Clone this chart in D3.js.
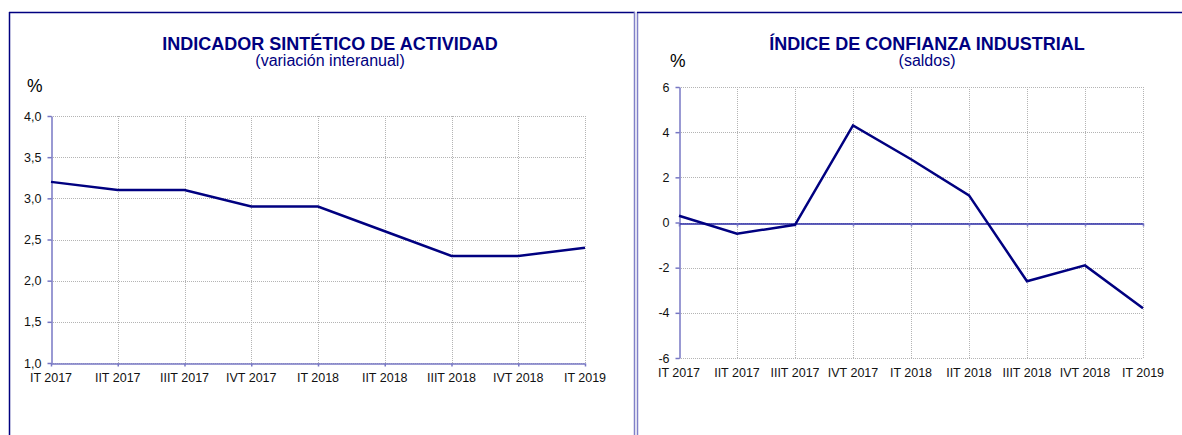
<!DOCTYPE html>
<html><head><meta charset="utf-8">
<script src="https://cdn.jsdelivr.net/npm/d3@7"></script>
<style>
html,body{margin:0;padding:0;background:#fff;}
svg{display:block;font-family:"Liberation Sans",Arial,sans-serif;}
</style></head>
<body><svg id="c" width="1182" height="435"></svg>
<script>
const categories = ["IT 2017","IIT 2017","IIIT 2017","IVT 2017","IT 2018","IIT 2018","IIIT 2018","IVT 2018","IT 2019"];
const actividadValues = [3.2, 3.1, 3.1, 2.9, 2.9, 2.6, 2.3, 2.3, 2.4];
const confianzaValues = [0.3, -0.5, -0.1, 4.3, 2.8, 1.2, -2.6, -1.9, -3.8];
const actividadTicks = [1.0, 1.5, 2.0, 2.5, 3.0, 3.5, 4.0];
const confianzaTicks = [-6, -4, -2, 0, 2, 4, 6];

const svg = d3.select("#c");
const navy = "#000080";
const axisCol = "#7777c4";

// panel borders
svg.append("line").attr("x1",9.5).attr("x2",9.5).attr("y1",12).attr("y2",435).attr("stroke",navy).attr("stroke-width",1.5);
svg.append("line").attr("x1",9).attr("x2",635).attr("y1",12.5).attr("y2",12.5).attr("stroke",navy).attr("stroke-width",1.5);
svg.append("line").attr("x1",634.5).attr("x2",634.5).attr("y1",12).attr("y2",435).attr("stroke","#8080c8").attr("stroke-width",1.5);
svg.append("line").attr("x1",637.5).attr("x2",637.5).attr("y1",12).attr("y2",435).attr("stroke","#8080c8").attr("stroke-width",1.5);
svg.append("line").attr("x1",637).attr("x2",1182).attr("y1",12.5).attr("y2",12.5).attr("stroke",navy).attr("stroke-width",1.5);

function drawChart(o){
  const g = svg.append("g");
  g.append("text").attr("x",o.cx).attr("y",50).attr("text-anchor","middle")
    .attr("font-size",18).attr("font-weight","bold").attr("fill",navy).text(o.title);
  g.append("text").attr("x",o.cx).attr("y",66).attr("text-anchor","middle")
    .attr("font-size",16).attr("fill",navy).text(o.subtitle);
  g.append("text").attr("x",o.pctX).attr("y",o.pctY).attr("font-size",17.5).attr("fill","#000").text("%");

  const x = d3.scalePoint().domain(categories).range([o.x0,o.x1]);
  const y = d3.scaleLinear().domain(o.domain).range([o.y1,o.y0]);

  // grid
  g.append("g").selectAll("line").data(o.ticks).join("line")
    .attr("x1",o.x0).attr("x2",o.x1).attr("y1",d=>Math.round(y(d))+0.5).attr("y2",d=>Math.round(y(d))+0.5)
    .attr("stroke","#b4b4b4").attr("stroke-width",1).attr("stroke-dasharray","1,1");
  g.append("g").selectAll("line").data(categories.slice(1)).join("line")
    .attr("x1",d=>Math.round(x(d))+0.5).attr("x2",d=>Math.round(x(d))+0.5).attr("y1",o.y0).attr("y2",o.y1)
    .attr("stroke","#b4b4b4").attr("stroke-width",1).attr("stroke-dasharray","1,1");

  // y axis
  const ya = d3.axisLeft(y).tickValues(o.ticks).tickSize(4).tickSizeOuter(0).tickFormat(o.fmt);
  const yg = g.append("g").attr("transform",`translate(${Math.round(o.x0)+0.5},0)`).call(ya);
  yg.select(".domain").attr("stroke",axisCol).attr("stroke-width",1.5);
  yg.selectAll(".tick line").attr("stroke",axisCol).attr("stroke-width",1.5);
  yg.selectAll(".tick text").attr("font-size",12.5).attr("fill","#111").attr("font-family","Liberation Sans, Arial, sans-serif").attr("x",-10);

  // x axis (at baseline value)
  const xa = d3.axisBottom(x).tickSize(3).tickSizeOuter(0);
  const xg = g.append("g").attr("transform",`translate(0,${Math.round(y(o.baseline))+0.5})`).call(xa);
  xg.select(".domain").attr("stroke",o.baseCol).attr("stroke-width",o.baseW);
  xg.selectAll(".tick line").attr("stroke",axisCol).attr("stroke-width",1.5);
  xg.selectAll(".tick text").remove();
  // x labels at bottom
  g.append("g").selectAll("text").data(categories).join("text")
    .attr("x",d=>x(d)).attr("y",o.labelY).attr("text-anchor","middle")
    .attr("font-size",12.5).attr("fill","#111").text(d=>d);

  // line
  g.append("path").datum(o.values)
    .attr("fill","none").attr("stroke",navy).attr("stroke-width",2.5).attr("stroke-linejoin","miter")
    .attr("d", d3.line().x((d,i)=>x(categories[i])).y(d=>y(d)));
}

drawChart({
  title:"INDICADOR SINTÉTICO DE ACTIVIDAD", subtitle:"(variación interanual)", cx:330,
  pctX:27, pctY:92, x0:51, x1:585, y0:116, y1:363, domain:[1,4], ticks:actividadTicks,
  fmt:d=>d3.format(".1f")(d).replace(".",","), values:actividadValues, baseline:1,
  baseCol:axisCol, baseW:1.5, labelY:382
});
drawChart({
  title:"ÍNDICE DE CONFIANZA INDUSTRIAL", subtitle:"(saldos)", cx:927,
  pctX:670, pctY:67, x0:679, x1:1143, y0:87, y1:358, domain:[-6,6], ticks:confianzaTicks,
  fmt:d=>String(d), values:confianzaValues, baseline:0,
  baseCol:"#2a2aa6", baseW:1.3, labelY:377
});
</script></body></html>
